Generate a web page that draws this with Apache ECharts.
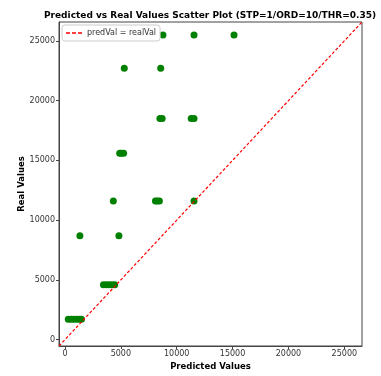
<!DOCTYPE html>
<html><head><meta charset="utf-8">
<script src="https://cdn.jsdelivr.net/npm/echarts@6/dist/echarts.min.js"></script>
<style>html,body{margin:0;padding:0;background:#fff}#c{width:381px;height:376px}</style>
</head><body><div id="c"></div>
<script>
// Predicted values (x) and real values (y)
const predicted = [8770, 11550, 15130, 5310, 8570, 8500, 8700, 11300, 11550, 4900, 5050, 5250, 4330, 8100, 8250, 8450, 11550, 1340, 4830, 3450, 3700, 3950, 4200, 4450, 300, 550, 800, 1050, 1300, 1480];
const real =      [25500, 25500, 25500, 22700, 22700, 18500, 18500, 18500, 18500, 15600, 15600, 15600, 11600, 11600, 11600, 11600, 11600, 8700, 8700, 4600, 4600, 4600, 4600, 4600, 1700, 1700, 1700, 1700, 1700, 1700];
const axisMin = -530, axisMax = 26580;
const tickValues = [0, 5000, 10000, 15000, 20000, 25000];
const titleText = 'Predicted vs Real Values Scatter Plot (STP=1/ORD=10/THR=0.35)';

const pts = predicted.map((p, i) => [p, real[i]]);
const font = 'DejaVu Sans';
const axisCommon = {
  type: 'value', min: axisMin, max: axisMax,
  splitLine: {show: false},
  axisLine: {show: true, onZero: false, lineStyle: {color: '#444', width: 1}},
  axisTick: {show: true, length: 3, customValues: tickValues, lineStyle: {color: '#444'}},
  axisLabel: {customValues: tickValues, formatter: v => String(v), fontFamily: font, fontSize: 8, color: '#333', margin: 4},
  nameLocation: 'middle',
  nameMoveOverlap: false,
  nameTextStyle: {fontFamily: font, fontSize: 8.5, fontWeight: 'bold', color: '#000'}
};
const chart = echarts.init(document.getElementById('c'));
chart.setOption({
  animation: false,
  title: {text: titleText, left: 205, textAlign: 'center', top: 6,
    textStyle: {fontFamily: font, fontSize: 9, fontWeight: 'bold', color: '#000'}},
  grid: {left: 59, right: 19, top: 22, bottom: 27, show: true, borderColor: '#444', borderWidth: 1},
  legend: {left: 62, top: 25, orient: 'vertical',
    data: [{name: 'predVal = realVal', icon: 'path://M0 0H4V1.5H0Z M6 0H10V1.5H6Z M12 0H16V1.5H12Z'}],
    backgroundColor: '#fff', borderColor: '#ccc', borderWidth: 1, borderRadius: 3,
    padding: [4, 4, 4, 4], itemWidth: 16, itemHeight: 1.5, itemGap: 0,
    textStyle: {fontFamily: font, fontSize: 8, color: '#333'}},
  xAxis: Object.assign({}, axisCommon, {name: 'Predicted Values', nameGap: 16}),
  yAxis: Object.assign({}, axisCommon, {name: 'Real Values', nameGap: 33}),
  series: [
    {name: 'points', type: 'scatter', data: pts, symbolSize: 7,
     itemStyle: {color: '#008000', opacity: 1}, z: 3},
    {name: 'predVal = realVal', type: 'line', data: [[axisMin, axisMin], [axisMax, axisMax]],
     symbol: 'none', lineStyle: {color: '#ff0000', type: [3, 2], width: 1.2},
     itemStyle: {color: '#ff0000'}, z: 4}
  ]
});
</script></body></html>
